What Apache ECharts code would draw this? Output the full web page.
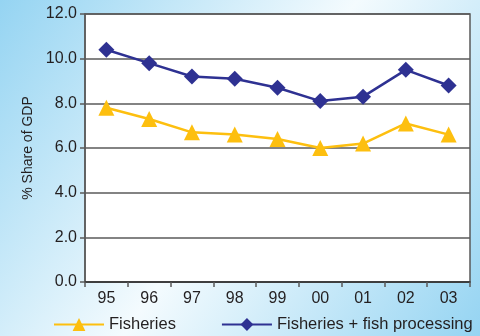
<!DOCTYPE html>
<html>
<head>
<meta charset="utf-8">
<script src="https://cdn.jsdelivr.net/npm/echarts@6/dist/echarts.min.js"></script>
<style>
  html, body { margin: 0; padding: 0; }
  #chart { width: 480px; height: 336px; }
</style>
</head>
<body>
<div id="chart"></div>
<script>
// Fisheries share of GDP, 1995-2003
const years = ['95', '96', '97', '98', '99', '00', '01', '02', '03'];
const fisheries = [7.8, 7.3, 6.7, 6.6, 6.4, 6.0, 6.2, 7.1, 6.6];
const fisheriesProcessing = [10.4, 9.8, 9.2, 9.1, 8.7, 8.1, 8.3, 9.5, 8.8];
const seriesNames = ['Fisheries', 'Fisheries + fish processing'];

const FONT = '"Liberation Sans Narrow", "Liberation Sans", Arial, sans-serif';
const TEXT = '#231f20';
const GRID_LINE = '#5a5a5a';

const chart = echarts.init(document.getElementById('chart'), null, { renderer: 'canvas' });

chart.setOption({
  animation: false,
  backgroundColor: new echarts.graphic.LinearGradient(0, 0, 1, 1, [
    { offset: 0, color: '#95d4f2' },
    { offset: 0.5, color: '#f4fbfe' },
    { offset: 1, color: '#95d4f2' }
  ]),
  textStyle: { fontFamily: FONT },
  grid: {
    left: 85, right: 10, top: 14, bottom: 54,
    show: true, backgroundColor: '#ffffff',
    borderColor: GRID_LINE, borderWidth: 1.5
  },
  legend: {
    orient: 'horizontal',
    bottom: 3,
    left: 53,
    width: 427,
    padding: 0,
    itemWidth: 50,
    itemHeight: 16,
    itemGap: 45,
    textStyle: { fontFamily: FONT, fontSize: 16.5, color: TEXT },
    data: seriesNames
  },
  xAxis: {
    type: 'category',
    data: years,
    boundaryGap: true,
    axisLine: { lineStyle: { color: '#333', width: 1.5 } },
    axisTick: { show: true, length: 5, lineStyle: { color: GRID_LINE, width: 1.5 } },
    axisLabel: { color: TEXT, fontSize: 16, margin: 9, fontFamily: FONT }
  },
  yAxis: {
    type: 'value',
    min: 0, max: 12, interval: 2,
    name: '% Share of GDP',
    nameLocation: 'middle',
    nameGap: 50,
    nameTextStyle: { color: TEXT, fontSize: 14, fontFamily: FONT },
    axisLine: { show: true, lineStyle: { color: GRID_LINE, width: 1.5 } },
    axisTick: { show: true, length: 5, lineStyle: { color: GRID_LINE, width: 1.5 } },
    axisLabel: {
      color: TEXT, fontSize: 16, margin: 8, fontFamily: FONT,
      formatter: v => v.toFixed(1)
    },
    splitLine: { lineStyle: { color: GRID_LINE, width: 1.5 } }
  },
  series: [
    {
      name: seriesNames[0],
      type: 'line',
      data: fisheries,
      symbol: 'triangle',
      symbolSize: 16,
      lineStyle: { color: '#fdbf0f', width: 2.5 },
      itemStyle: { color: '#fdbf0f' }
    },
    {
      name: seriesNames[1],
      type: 'line',
      data: fisheriesProcessing,
      symbol: 'diamond',
      symbolSize: 16,
      lineStyle: { color: '#2e3192', width: 2.5 },
      itemStyle: { color: '#2e3192' }
    }
  ]
});
</script>
</body>
</html>
